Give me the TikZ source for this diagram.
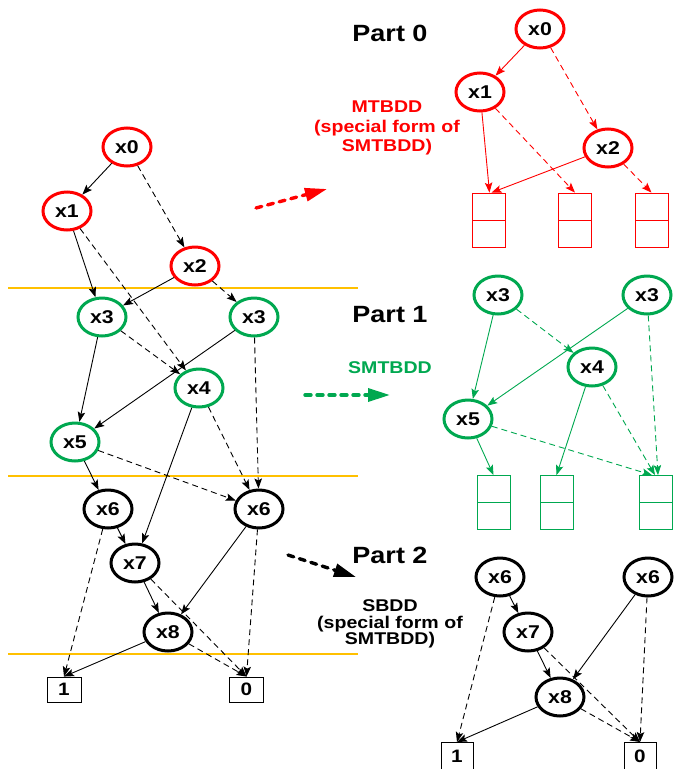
\documentclass[tikz,border=0pt]{standalone}
\usepackage{fontspec}
\setmainfont{Liberation Sans}[FakeStretch=1.15]
\usetikzlibrary{arrows.meta,shapes.geometric}
\definecolor{cred}{RGB}{255,0,0}
\definecolor{cgreen}{RGB}{0,168,80}
\definecolor{corange}{RGB}{255,192,0}
\tikzset{
  vn/.style={ellipse, draw, line width=3pt, minimum width=48pt, minimum height=38pt, inner sep=0pt,
    font=\bfseries\fontsize{18.5}{18.5}\selectfont},
  rn/.style={vn, draw=cred},
  gn/.style={vn, draw=cgreen},
  bn/.style={vn, draw=black},
  term/.style={draw, line width=0.9pt, minimum width=#1, minimum height=25pt, inner sep=0pt,
    font=\bfseries\fontsize{18}{18}\selectfont},
  stack/.style={draw=#1, line width=0.8pt, minimum width=33pt, minimum height=54pt, inner sep=0pt,
    path picture={\draw[#1, line width=0.8pt] (path picture bounding box.west) -- (path picture bounding box.east);}},
  sol/.style={-{Stealth[length=10pt,width=7.5pt,inset=2pt]}, line width=0.9pt},
  dsh/.style={sol, dash pattern=on 6pt off 4pt},
  sepline/.style={draw=corange, line width=1.8pt},
  bigarrow/.style={draw=#1, line width=3.4pt, dash pattern=on 6pt off 6pt, line cap=round,
    -{Triangle[length=22pt,width=13pt,fill=#1]}},
  title/.style={font=\bfseries\fontsize{23.5}{23.5}\selectfont},
  note/.style={align=center, font=\bfseries\fontsize{17}{19.5}\selectfont},
}
\begin{document}
\begin{tikzpicture}[x=1pt,y=-1pt]
\useasboundingbox (0,0) rectangle (674,769);

% separator lines
\draw[sepline] (8,288) -- (358,288);
\draw[sepline] (8,476) -- (358,476);
\draw[sepline] (8,654) -- (358,654);

% ---------- left graph ----------
\node[rn] (L0) at (127,147) {x0};
\node[rn] (L1) at (67,211) {x1};
\node[rn] (L2) at (195,266) {x2};
\node[gn] (L3a) at (102,317) {x3};
\node[gn] (L3b) at (254,317) {x3};
\node[gn] (L4) at (199,388) {x4};
\node[gn] (L5) at (75,442) {x5};
\node[bn] (L6a) at (108,509) {x6};
\node[bn] (L6b) at (259,509) {x6};
\node[bn] (L7) at (135,563) {x7};
\node[bn] (L8) at (168,632) {x8};
\node[term=34pt] (L1t) at (64,689.5) {1};
\node[term=34pt] (L0t) at (246.5,689.5) {0};

\draw[sol] (L0) -- (L1);
\draw[dsh] (L0) -- (L2);
\draw[sol] (L1) -- (L3a);
\draw[dsh] (L1) -- (L4);
\draw[sol] (L2) -- (L3a);
\draw[dsh] (L2) -- (L3b);
\draw[sol] (L3a) -- (L5);
\draw[dsh] (L3a) -- (L4);
\draw[sol] (L3b) -- (L5);
\draw[dsh] (L3b) -- (L6b);
\draw[sol] (L4) -- (L7);
\draw[dsh] (L4) -- (L6b);
\draw[sol] (L5) -- (L6a);
\draw[dsh] (L5) -- (L6b);
\draw[sol] (L6a) -- (L7);
\draw[dsh] (L6a) -- (L1t.north);
\draw[sol] (L6b) -- (L8);
\draw[dsh] (L6b) -- (L0t.north);
\draw[sol] (L7) -- (L8);
\draw[dsh] (L7) -- (L0t.north);
\draw[sol] (L8) -- (L1t.north);
\draw[dsh] (L8) -- (L0t.north);

% ---------- big arrows ----------
\coordinate (ra1) at (256,208); \coordinate (ra2) at (327,189);
\coordinate (ga1) at (305,395); \coordinate (ga2) at (390,395);
\coordinate (ba1) at (288,555); \coordinate (ba2) at (356,577);
\draw[bigarrow=cred] (ra1) -- (ra2);
\draw[bigarrow=cgreen] (ga1) -- (ga2);
\draw[bigarrow=black] (ba1) -- (ba2);

% ---------- labels ----------
\node[title] (T0) at (390,33) {Part 0};
\node[title] (T1) at (390,315) {Part 1};
\node[title] (T2) at (390,555) {Part 2};
\node[note, text=cred] (N0) at (387,128) {MTBDD\\(special form of\\SMTBDD)};
\node[note, text=cgreen] (N1) at (390,368) {SMTBDD};
\node[note, font=\bfseries\fontsize{17}{16.5}\selectfont] (N2) at (390,624) {SBDD\\(special form of\\SMTBDD)};

% ---------- Part 0 ----------
\node[rn] (A0) at (540,29) {x0};
\node[rn] (A1) at (480,92) {x1};
\node[rn] (A2) at (608,148) {x2};
\node[stack=cred] (S01) at (488.5,220) {};
\node[stack=cred] (S02) at (575,220) {};
\node[stack=cred] (S03) at (651.5,220) {};
\begin{scope}[cred]
\draw[sol] (A0) -- (A1);
\draw[dsh] (A0) -- (A2);
\draw[sol] (A1) -- ([xshift=1pt]S01.north);
\draw[dsh] (A1) -- (S02.north);
\draw[sol] (A2) -- ([xshift=3pt]S01.north);
\draw[dsh] (A2) -- (S03.north);
\end{scope}

% ---------- Part 1 ----------
\node[gn] (B3a) at (498,295) {x3};
\node[gn] (B3b) at (647,295) {x3};
\node[gn] (B4) at (592,367) {x4};
\node[gn] (B5) at (468,419) {x5};
\node[stack=cgreen] (S11) at (493.5,502.5) {};
\node[stack=cgreen] (S12) at (556.5,502.5) {};
\node[stack=cgreen] (S13) at (656,502.5) {};
\begin{scope}[cgreen]
\draw[sol] (B3a) -- (B5);
\draw[dsh] (B3a) -- (B4);
\draw[sol] (B3b) -- (B5);
\draw[dsh] (B3b) -- ([xshift=2pt]S13.north);
\draw[sol] (B4) -- (S12.north);
\draw[dsh] (B4) -- ([xshift=-1pt]S13.north);
\draw[sol] (B5) -- (S11.north);
\draw[dsh] (B5) -- ([xshift=-4pt]S13.north);
\end{scope}

% ---------- Part 2 ----------
\node[bn] (C6a) at (500,577) {x6};
\node[bn] (C6b) at (648,577) {x6};
\node[bn] (C7) at (528,632) {x7};
\node[bn] (C8) at (560,697) {x8};
\node[term=32pt, minimum height=27pt, anchor=north] (C1t) at (457,742) {1};
\node[term=32pt, minimum height=27pt, anchor=north] (C0t) at (640,742) {0};
\draw[sol] (C6a) -- (C7);
\draw[dsh] (C6a) -- (C1t.north);
\draw[sol] (C6b) -- (C8);
\draw[dsh] (C6b) -- (C0t.north);
\draw[sol] (C7) -- (C8);
\draw[dsh] (C7) -- (C0t.north);
\draw[sol] (C8) -- (C1t.north);
\draw[dsh] (C8) -- (C0t.north);
\end{tikzpicture}
\end{document}
